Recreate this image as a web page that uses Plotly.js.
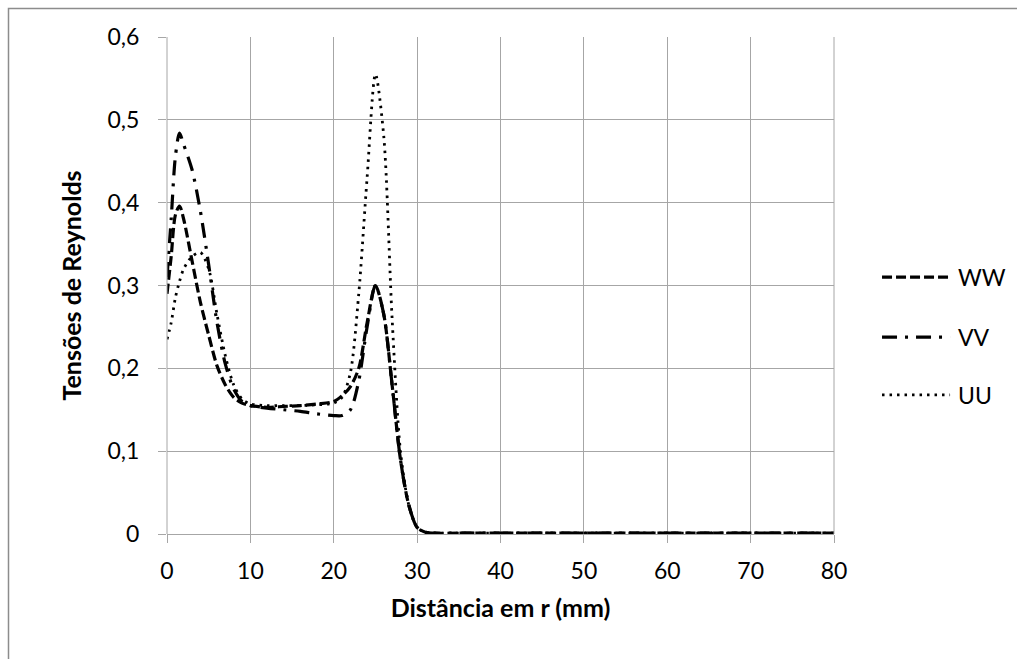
<!DOCTYPE html>
<html>
<head>
<meta charset="utf-8">
<script src="https://cdn.plot.ly/plotly-3.0.1.min.js"></script>
<style>
  html, body { margin: 0; padding: 0; background: #ffffff; }
  #chart { width: 1017px; height: 659px; }
</style>
</head>
<body>
<div id="chart"></div>
<script>
// Distância em r (mm)
const xWW = [0, 0.5, 1, 1.5, 2, 3, 4, 5, 6, 7, 8, 9, 10, 12, 14, 16, 18, 20, 21, 22, 23, 24, 25, 26, 27, 28, 29, 30, 31, 32, 35, 40, 45, 50, 55, 60, 65, 70, 75, 80];
const WW  = [0.29, 0.335, 0.385, 0.396, 0.38, 0.33, 0.28, 0.24, 0.203, 0.18, 0.165, 0.158, 0.155, 0.153, 0.154, 0.155, 0.157, 0.16, 0.167, 0.178, 0.2, 0.255, 0.30, 0.265, 0.18, 0.09, 0.035, 0.008, 0.002, 0.001, 0.001, 0.001, 0.001, 0.001, 0.001, 0.001, 0.001, 0.001, 0.001, 0.001];

const xVV = [0, 0.5, 1, 1.5, 2, 3, 4, 5, 6, 7, 8, 9, 10, 12, 14, 16, 18, 20, 21, 22, 23, 24, 25, 26, 27, 28, 29, 30, 31, 32, 35, 40, 45, 50, 55, 60, 65, 70, 75, 80];
const VV  = [0.31, 0.38, 0.455, 0.484, 0.47, 0.44, 0.39, 0.325, 0.255, 0.205, 0.175, 0.16, 0.155, 0.152, 0.15, 0.148, 0.145, 0.143, 0.143, 0.15, 0.185, 0.25, 0.30, 0.265, 0.18, 0.09, 0.035, 0.008, 0.002, 0.001, 0.001, 0.001, 0.001, 0.001, 0.001, 0.001, 0.001, 0.001, 0.001, 0.001];

const xUU = [0, 0.5, 1, 1.5, 2, 3, 4, 5, 6, 7, 8, 9, 10, 12, 14, 16, 18, 20, 21, 22, 23, 24, 25, 26, 27, 28, 29, 30, 31, 32, 35, 40, 45, 50, 55, 60, 65, 70, 75, 80];
const UU  = [0.235, 0.255, 0.285, 0.305, 0.32, 0.335, 0.34, 0.32, 0.265, 0.215, 0.18, 0.163, 0.157, 0.155, 0.155, 0.155, 0.156, 0.158, 0.165, 0.195, 0.29, 0.43, 0.555, 0.48, 0.26, 0.1, 0.035, 0.008, 0.002, 0.001, 0.001, 0.001, 0.001, 0.001, 0.001, 0.001, 0.001, 0.001, 0.001, 0.001];

const seriesNames = ['WW', 'VV', 'UU'];
const xTitle = 'Distância em r (mm)';
const yTitle = 'Tensões de Reynolds';

const FONT = 'Lato, "Open Sans", "Liberation Sans", sans-serif';
const TICK = 23, TITLE = 25, LEG = 23;

const styles = [
  { color: '#000000', width: 3.2, dash: '10px,4px' },
  { color: '#000000', width: 3.2, dash: '15px,8px,3px,8px' },
  { color: '#000000', width: 2.8, dash: '2.5px,5px' }
];
const seriesX = [xWW, xVV, xUU];
const seriesY = [WW, VV, UU];

const traces = seriesNames.map((n, i) => ({
  x: seriesX[i], y: seriesY[i], name: n, type: 'scatter', mode: 'lines',
  showlegend: false,
  line: Object.assign({ shape: 'spline', smoothing: 0.8 }, styles[i])
}));

// custom legend (long line samples like the original)
const legY = [0.517, 0.396, 0.280];
const shapes = [];
const annotations = [];
seriesNames.forEach((n, i) => {
  shapes.push({ type: 'line', xref: 'paper', yref: 'paper',
    x0: 1.072, x1: 1.174, y0: legY[i], y1: legY[i],
    line: { color: styles[i].color, width: styles[i].width, dash: styles[i].dash } });
  annotations.push({ xref: 'paper', yref: 'paper', x: 1.183, y: legY[i],
    xanchor: 'left', yanchor: 'middle', showarrow: false, text: n,
    font: { family: FONT, size: LEG, color: '#000000' } });
});

const layout = {
  width: 1017, height: 659,
  paper_bgcolor: '#ffffff', plot_bgcolor: '#ffffff',
  margin: { l: 167, r: 183, t: 37, b: 125 },
  separators: ',.',
  font: { family: FONT, size: TICK, color: '#000000' },
  showlegend: false,
  xaxis: {
    range: [0, 80], dtick: 10, tick0: 0,
    showgrid: true, gridcolor: '#a6a6a6', gridwidth: 1,
    zeroline: false, showline: false,
    ticks: 'outside', ticklen: 8, tickcolor: '#a6a6a6', tickwidth: 1,
    ticklabelstandoff: 8,
    tickfont: { family: FONT, size: TICK, color: '#000000' },
    title: { text: '<b>' + xTitle + '</b>', font: { family: FONT, size: TITLE, color: '#000000' }, standoff: 16 },
    fixedrange: true
  },
  yaxis: {
    range: [0, 0.6], dtick: 0.1, tick0: 0,
    showgrid: true, gridcolor: '#a6a6a6', gridwidth: 1,
    zeroline: true, zerolinecolor: '#a6a6a6', zerolinewidth: 1,
    showline: false,
    ticks: 'outside', ticklen: 8, tickcolor: '#a6a6a6', tickwidth: 1,
    ticklabelstandoff: 14,
    tickfont: { family: FONT, size: TICK, color: '#000000' },
    title: { text: '<b>' + yTitle + '</b>', font: { family: FONT, size: TITLE, color: '#000000' }, standoff: 18 },
    fixedrange: true
  },
  shapes: [
    { type: 'line', xref: 'paper', yref: 'paper', x0: 0, x1: 0, y0: 0, y1: 1,
      line: { color: '#a6a6a6', width: 1 } },
    { type: 'line', xref: 'paper', yref: 'paper', x0: 1, x1: 1, y0: 0, y1: 1,
      line: { color: '#a6a6a6', width: 1 } }
  ].concat(shapes),
  annotations: annotations
};

Plotly.newPlot('chart', traces, layout, { displayModeBar: false, staticPlot: true }).then(function () {
  // outer chart frame (top and left edges visible)
  const svg = document.querySelector('#chart .main-svg');
  const ns = 'http://www.w3.org/2000/svg';
  const frame = document.createElementNS(ns, 'path');
  frame.setAttribute('d', 'M8.5,659 L8.5,8.5 L1017,8.5');
  frame.setAttribute('fill', 'none');
  frame.setAttribute('stroke', '#8c8c8c');
  frame.setAttribute('stroke-width', '1.5');
  svg.appendChild(frame);
});
</script>
</body>
</html>
